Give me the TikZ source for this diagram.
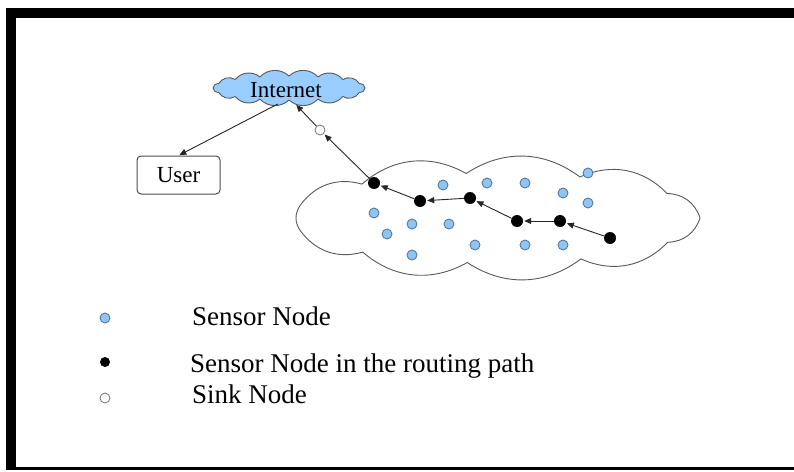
\documentclass[tikz,border=0pt]{standalone}
\usepackage{fontspec}
\setmainfont{Liberation Serif}
\usetikzlibrary{shapes.geometric,arrows.meta}
\definecolor{skyfill}{HTML}{99CCFF}
\definecolor{dotblue}{HTML}{8EC5F2}
\definecolor{dotedge}{HTML}{5A7A99}
\tikzset{
  sensor/.style={circle,draw=dotedge,fill=dotblue,line width=0.9pt,minimum size=10pt,inner sep=0pt},
  routenode/.style={circle,fill=black,minimum size=12pt,inner sep=0pt},
  sinknode/.style={circle,draw=gray,fill=white,line width=0.9pt,minimum size=10pt,inner sep=0pt},
  link/.style={draw=black!85,line width=0.9pt,-{Triangle[length=7pt,width=6pt]},shorten >=1pt},
  cloudline/.style={draw=black!65,line width=0.9pt},
  legtext/.style={anchor=base west,inner sep=0pt,font=\fontsize{27}{30}\selectfont},
  anchorshape/.style={ellipse,inner sep=0pt},
}
\begin{document}
\begin{tikzpicture}[x=1pt,y=-1pt]
\useasboundingbox (0,0) rectangle (794,471);
% frame
\fill[black] (6,8) rectangle (794,18);
\fill[black] (6,8) rectangle (16,470);
\fill[black] (6,467) rectangle (794,470);
% internet cloud
\node[anchorshape,minimum width=150pt,minimum height=32pt] (inet) at (289,88) {};
\filldraw[cloudline,fill=skyfill] ({289+76*cos(0)},{88+12*sin(0)})
  \foreach \t in {22.5,45,...,360} { to[bend left=45] ({289+76*cos(\t)},{88+12*sin(\t)}) } -- cycle;
\node[anchor=base,inner sep=0pt,font=\fontsize{23}{26}\selectfont] (inettext) at (286,97) {Internet};
% sensor field cloud
\node[anchorshape,minimum width=400pt,minimum height=110pt] (field) at (496,218) {};
\filldraw[cloudline,fill=white] ({496+204*cos(0)},{218+45*sin(0)})
  \foreach \t in {32.7,65.4,...,360} { to[bend left=35] ({496+204*cos(\t)},{218+45*sin(\t)}) } -- cycle;
% user box
\node[draw=black!70,line width=1pt,rounded corners=4pt,minimum width=83pt,minimum height=38pt,
      inner sep=0pt,font=\fontsize{23}{26}\selectfont] (user) at (178.5,175) {User};
% sensor nodes
\foreach \n/\x/\y in {s1/443/185,s2/487/183,s3/525/183,s4/588/173,s5/563/193,s6/588/203,
                      s7/374/213,s8/412/224,s9/449/224,s10/387/234,s11/475/245,s12/525/245,
                      s13/563/245,s14/412/255}
  \node[sensor] (\n) at (\x,\y) {};
% routing path nodes
\node[routenode] (b1) at (374,183) {};
\node[routenode] (b2) at (420,201) {};
\node[routenode] (b3) at (470,198) {};
\node[routenode] (b4) at (517,221) {};
\node[routenode] (b5) at (560,221) {};
\node[routenode] (b6) at (610,238) {};
\node[sinknode] (sink) at (320,130) {};
% connectors
\draw[link] (inet.235) -- (user.north);
\draw[link] (b6) -- (b5);
\draw[link] (b5) -- (b4);
\draw[link] (b4) -- (b3);
\draw[link] (b3) -- (b2);
\draw[link] (b2) -- (b1);
\draw[link] (b1) -- (sink);
\draw[link] (sink) -- (inet.292);
% legend
\node[sensor] (l1) at (105,318) {};
\node[routenode,minimum size=10pt] (l2) at (105,362) {};
\node[sinknode] (l3) at (105,398) {};
\node[legtext] (t1) at (192,325) {Sensor Node};
\node[legtext] (t2) at (190,372) {Sensor Node in the routing path};
\node[legtext] (t3) at (192,403) {Sink Node};
\end{tikzpicture}
\end{document}
